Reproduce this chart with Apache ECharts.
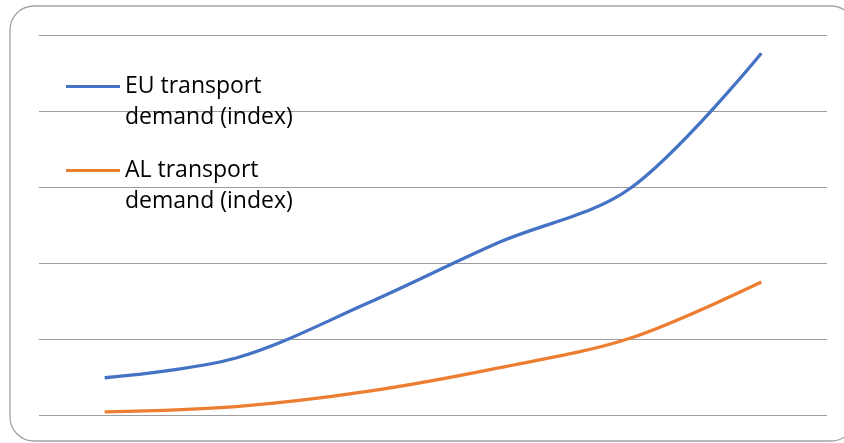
<!DOCTYPE html>
<html>
<head>
<meta charset="utf-8">
<style>
  html, body { margin: 0; padding: 0; background: #ffffff; }
  #chart { width: 844px; height: 443px; }
</style>
<script src="https://cdn.jsdelivr.net/npm/echarts@6/dist/echarts.min.js"></script>
</head>
<body>
<div id="chart"></div>
<script>
// Six periods along the horizontal axis (unlabelled)
const categories = ['1', '2', '3', '4', '5', '6'];

// Index values per series
const euDemand = [0.49, 0.75, 1.47, 2.27, 2.98, 4.76];
const alDemand = [0.04, 0.11, 0.31, 0.62, 1.01, 1.75];

const seriesNames = ['EU transport\ndemand (index)', 'AL transport\ndemand (index)'];

const chart = echarts.init(document.getElementById('chart'), null, { renderer: 'canvas' });

chart.setOption({
  backgroundColor: '#ffffff',
  animation: false,
  graphic: [{
    type: 'rect',
    silent: true,
    z: -1,
    shape: { x: 10, y: 6, width: 845, height: 435, r: 24 },
    style: { fill: 'none', stroke: '#a3a3a3', lineWidth: 1.3 }
  }],
  grid: { left: 39, right: 17, top: 35, bottom: 28 },
  legend: {
    orient: 'vertical',
    left: 66,
    top: 40,
    padding: 0,
    icon: 'rect',
    itemWidth: 54,
    itemHeight: 3.2,
    itemGap: -9,
    data: seriesNames,
    // a leading empty line keeps the icon level with the first text line
    formatter: function (name) { return '\n' + name; },
    textStyle: {
      fontFamily: 'Open Sans',
      fontSize: 23,
      color: '#000000',
      lineHeight: 31
    }
  },
  xAxis: {
    type: 'category',
    data: categories,
    boundaryGap: true,
    axisLine: { show: false },
    axisTick: { show: false },
    axisLabel: { show: false },
    splitLine: { show: false }
  },
  yAxis: {
    type: 'value',
    min: 0,
    max: 5,
    interval: 1,
    axisLine: { show: false },
    axisTick: { show: false },
    axisLabel: { show: false },
    splitLine: { lineStyle: { color: '#9e9e9e', width: 1 } }
  },
  series: [
    {
      name: seriesNames[0],
      type: 'line',
      data: euDemand,
      smooth: 0.33,
      symbol: 'none',
      lineStyle: { color: '#4472C4', width: 3.3 },
      itemStyle: { color: '#4472C4' }
    },
    {
      name: seriesNames[1],
      type: 'line',
      data: alDemand,
      smooth: 0.33,
      symbol: 'none',
      lineStyle: { color: '#ED7D31', width: 3.3 },
      itemStyle: { color: '#ED7D31' }
    }
  ]
});
</script>
</body>
</html>
